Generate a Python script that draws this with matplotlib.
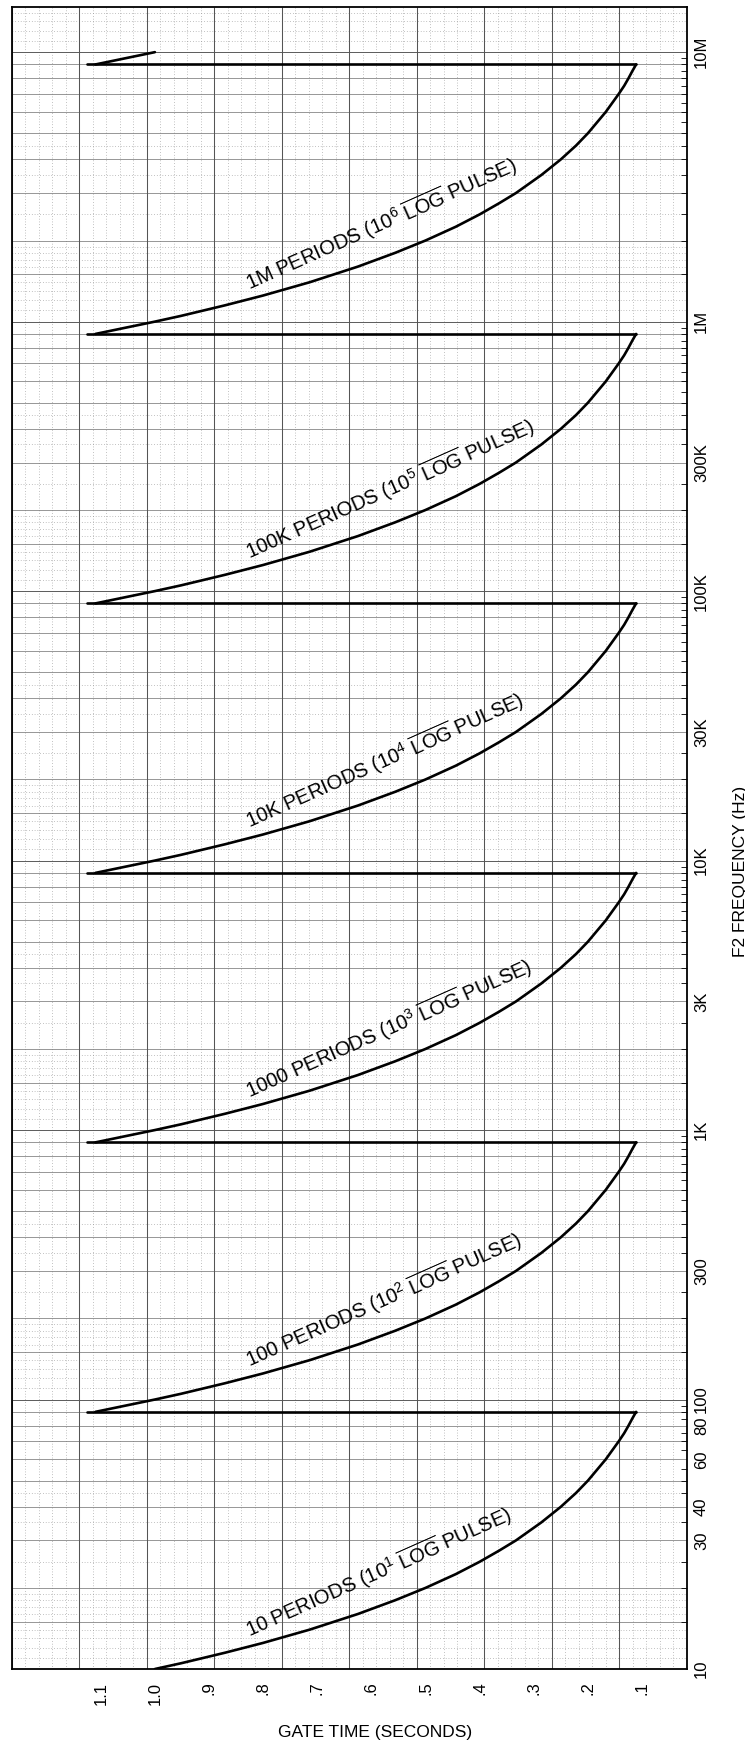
import numpy as np
import matplotlib
matplotlib.use("Agg")
import matplotlib.pyplot as plt
from matplotlib.ticker import FixedLocator, NullFormatter

plt.rcParams['font.family'] = ['Liberation Sans', 'DejaVu Sans']
plt.rcParams['mathtext.fontset'] = 'custom'
plt.rcParams['mathtext.rm'] = 'Liberation Sans'
plt.rcParams['mathtext.it'] = 'Liberation Sans:italic'
plt.rcParams['mathtext.bf'] = 'Liberation Sans:bold'

# ---------------- data ----------------
period_counts = [10, 100, 1000, 10000, 100000, 1000000, 10000000]
# frequency points of one curve, as multiples of its period count
freq_steps = [0.9, 1.0, 1.05, 1.1, 1.15, 1.25, 1.4, 1.6, 1.8, 2.0, 2.25, 2.5,
              2.75, 3.0, 3.5, 4.0, 4.5, 5.0, 6.0, 7.0, 7.5, 8.0, 8.5, 9.0]
# gate time (s) read at those points
gate_read = [1.11, 1.00, 0.952, 0.91, 0.870, 0.80, 0.714, 0.625, 0.556, 0.50,
             0.444, 0.40, 0.364, 0.333, 0.286, 0.25, 0.222, 0.20, 0.167, 0.143,
             0.133, 0.125, 0.118, 0.111]
curve_first = [1, 0, 0, 0, 0, 0, 0]
curve_last = [24, 24, 24, 24, 24, 24, 2]

switch_freqs = [90, 900, 9000, 90000, 900000, 9000000]
switch_gate_left = 1.125
switch_gate_right = 0.111

curve_labels = [
    r'10 PERIODS (10$^{1}$ $\overline{\mathrm{LOG}}$ PULSE)',
    r'100 PERIODS (10$^{2}$ $\overline{\mathrm{LOG}}$ PULSE)',
    r'1000 PERIODS (10$^{3}$ $\overline{\mathrm{LOG}}$ PULSE)',
    r'10K PERIODS (10$^{4}$ $\overline{\mathrm{LOG}}$ PULSE)',
    r'100K PERIODS (10$^{5}$ $\overline{\mathrm{LOG}}$ PULSE)',
    r'1M PERIODS (10$^{6}$ $\overline{\mathrm{LOG}}$ PULSE)',
]

gate_ticks = [1.1, 1.0, 0.9, 0.8, 0.7, 0.6, 0.5, 0.4, 0.3, 0.2, 0.1]
gate_tick_labels = ['1.1', '1.0', '.9', '.8', '.7', '.6', '.5', '.4', '.3', '.2', '.1']
freq_ticks = [10, 30, 40, 60, 80, 100, 300, 1e3, 3e3, 1e4, 3e4, 1e5, 3e5, 1e6, 1e7]
freq_tick_labels = ['10', '30', '40', '60', '80', '100', '300', '1K', '3K', '10K',
                    '30K', '100K', '300K', '1M', '10M']

grid_decades = [10, 100, 1e3, 1e4, 1e5, 1e6, 1e7]
grid_solid_subs = [1, 1.5, 2, 3, 4, 5, 6, 7, 8, 9]
grid_dotted_subs = [1.1, 1.2, 1.3, 1.4, 1.6, 1.7, 1.8, 1.9, 2.5, 3.5, 4.5]

# ---------------- figure ----------------
fig = plt.figure(figsize=(7.45, 17.42), dpi=100)
ax = fig.add_axes([0.0161, 0.0419, 0.906, 0.954])
ax.set_yscale('log')
ytop = 10 ** 7.167
ax.set_xlim(1.264, 0.017)
ax.set_ylim(10, ytop)

# graph-paper grid
for d in grid_decades:
    for s in grid_solid_subs:
        f = d * s
        if f <= ytop:
            ax.axhline(f, color='#5a5a5a' if s == 1 else '#7a7a7a',
                       lw=0.7 if s == 1 else 0.55, zorder=0.5)
    for s in grid_dotted_subs:
        f = d * s
        if f <= ytop:
            ax.axhline(f, color='#888888', lw=0.5, ls=(0, (1, 3)), zorder=0.4)
ax.vlines(np.linspace(0, 1, 11), 0, 1, transform=ax.transAxes,
          color='#555555', lw=0.75, zorder=0.5)
ax.vlines(np.linspace(0, 1, 51), 0, 1, transform=ax.transAxes,
          color='#888888', lw=0.5, ls=(0, (1, 3)), zorder=0.4)

# curves
for i, n in enumerate(period_counts):
    a, b = curve_first[i], curve_last[i]
    fr = [n * s for s in freq_steps[a:b]]
    gt = gate_read[a:b]
    ax.plot(gt, fr, color='black', lw=1.9, solid_capstyle='round',
            solid_joinstyle='round', zorder=3)

for f in switch_freqs:
    ax.plot([switch_gate_left, switch_gate_right], [f, f], color='black',
            lw=1.9, solid_capstyle='round', zorder=3)

# curve labels
for n, lab in zip(period_counts, curve_labels):
    ax.text(0.825, n * 1.31, lab, rotation=24, rotation_mode='anchor',
            ha='left', va='baseline', fontsize=14.5, zorder=4)

# ticks
ax.set_xticks(gate_ticks)
ax.set_xticklabels(gate_tick_labels, rotation=90, fontsize=12)
ax.yaxis.tick_right()
ax.yaxis.set_major_locator(FixedLocator(freq_ticks))
ax.set_yticklabels(freq_tick_labels, rotation=90, fontsize=12, va='center')
minor_locs = [d * s for d in grid_decades for s in np.arange(1.0, 10.0, 0.5)
              if d * s <= ytop]
ax.yaxis.set_minor_locator(FixedLocator(minor_locs))
ax.yaxis.set_minor_formatter(NullFormatter())
ax.tick_params(axis='x', which='both', length=0, pad=9)
ax.tick_params(axis='y', which='major', length=0, pad=5, right=True, left=False)
ax.tick_params(axis='y', which='minor', length=4, width=0.6, direction='in',
               right=True, left=False)

for sp in ax.spines.values():
    sp.set_linewidth(1.3)
    sp.set_color('black')

ax.set_xlabel('GATE TIME (SECONDS)', fontsize=12.5)
ax.xaxis.set_label_coords(0.538, -0.0335)
ax.set_ylabel('F2 FREQUENCY (Hz)', fontsize=12.5, rotation=90)
ax.yaxis.set_label_position('right')
ax.yaxis.set_label_coords(1.068, 0.48)

fig.savefig('out.png', dpi=100)
